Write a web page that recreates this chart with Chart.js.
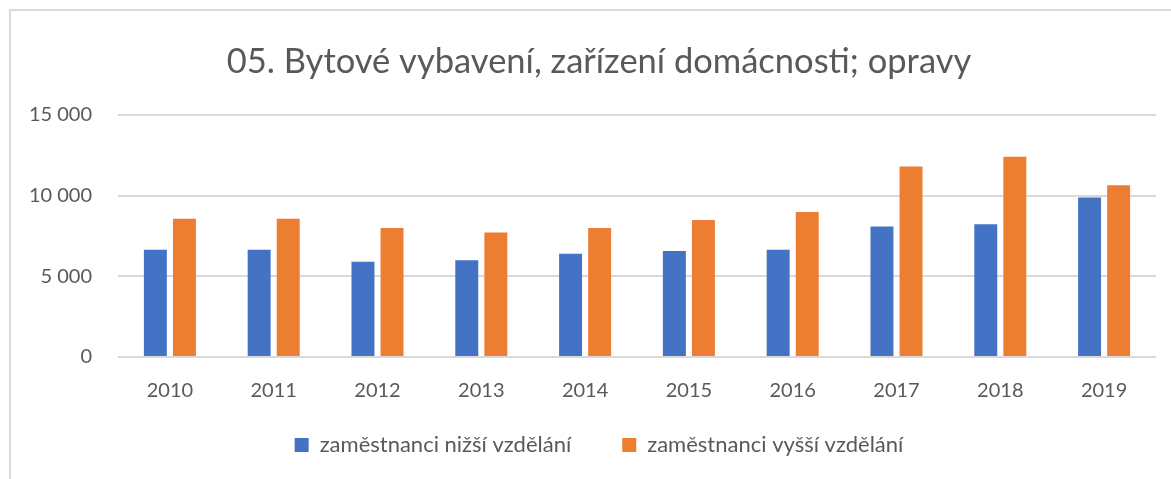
<!DOCTYPE html>
<html>
<head>
<meta charset="utf-8">
<script src="https://cdn.jsdelivr.net/npm/chart.js@4/dist/chart.umd.min.js"></script>
<style>
  html, body { margin: 0; padding: 0; background: #fff; overflow: hidden; width: 1171px; height: 479px; }
  #frame { position: absolute; left: 9px; top: 9px; width: 1180px; height: 470px; border-top: 2px solid #d9d9d9; border-left: 2px solid #d9d9d9; }
  #wrap { position: absolute; left: 11px; top: 11px; width: 1180px; height: 455px; }
</style>
</head>
<body>
<div id="frame"></div>
<div id="wrap"><canvas id="c" width="1180" height="455"></canvas></div>
<script>
const categories = ['2010','2011','2012','2013','2014','2015','2016','2017','2018','2019'];
const lowerEdu = [6650, 6650, 5900, 5990, 6400, 6570, 6650, 8080, 8220, 9890];
const higherEdu = [8570, 8570, 7990, 7720, 7990, 8490, 8980, 11810, 12410, 10640];
const seriesNames = ['zaměstnanci nižší vzdělání', 'zaměstnanci vyšší vzdělání'];
const yTicks = [0, 5000, 10000, 15000];
const titleText = '05. Bytové vybavení, zařízení domácnosti; opravy';

const FONT = 'Lato, "Open Sans", sans-serif';
const GREY = '#595959';

// let tick labels draw outside their (narrowed) axis boxes
const noLabelClip = (axis) => { axis._computeLabelArea = () => undefined; };

new Chart(document.getElementById('c'), {
  type: 'bar',
  data: {
    labels: categories,
    datasets: [
      { label: seriesNames[0], data: lowerEdu, backgroundColor: '#4472C4', categoryPercentage: 0.56, barPercentage: 0.79 },
      { label: seriesNames[1], data: higherEdu, backgroundColor: '#ED7D31', categoryPercentage: 0.56, barPercentage: 0.79 }
    ]
  },
  options: {
    responsive: false,
    animation: false,
    layout: { padding: { left: 31, right: 35, top: 0, bottom: 0 } },
    plugins: {
      title: {
        display: true,
        text: titleText,
        color: GREY,
        font: { family: FONT, size: 34.5, weight: 'normal' },
        padding: { top: 30, bottom: 32.5 }
      },
      legend: {
        position: 'bottom',
        labels: {
          color: GREY,
          font: { family: FONT, size: 22 },
          boxWidth: 14,
          boxHeight: 14,
          padding: 51
        }
      },
      tooltip: { enabled: false }
    },
    scales: {
      x: {
        afterFit: (axis) => { axis.height = 26; noLabelClip(axis); },
        grid: { display: false },
        border: { display: false },
        ticks: { color: GREY, font: { family: FONT, size: 20 }, padding: 13.5 }
      },
      y: {
        min: 0,
        max: 15000,
        afterBuildTicks: (axis) => { axis.ticks = yTicks.map(v => ({ value: v })); },
        afterFit: (axis) => { axis.width = 76; noLabelClip(axis); },
        grid: { color: '#d9d9d9', lineWidth: 2, drawTicks: false },
        border: { display: false },
        ticks: {
          color: GREY,
          font: { family: FONT, size: 20 },
          padding: 26,
          callback: (v) => v === 0 ? '0' : String(v).replace(/\B(?=(\d{3})+(?!\d))/g, ' ')
        }
      }
    }
  }
});
</script>
</body>
</html>
